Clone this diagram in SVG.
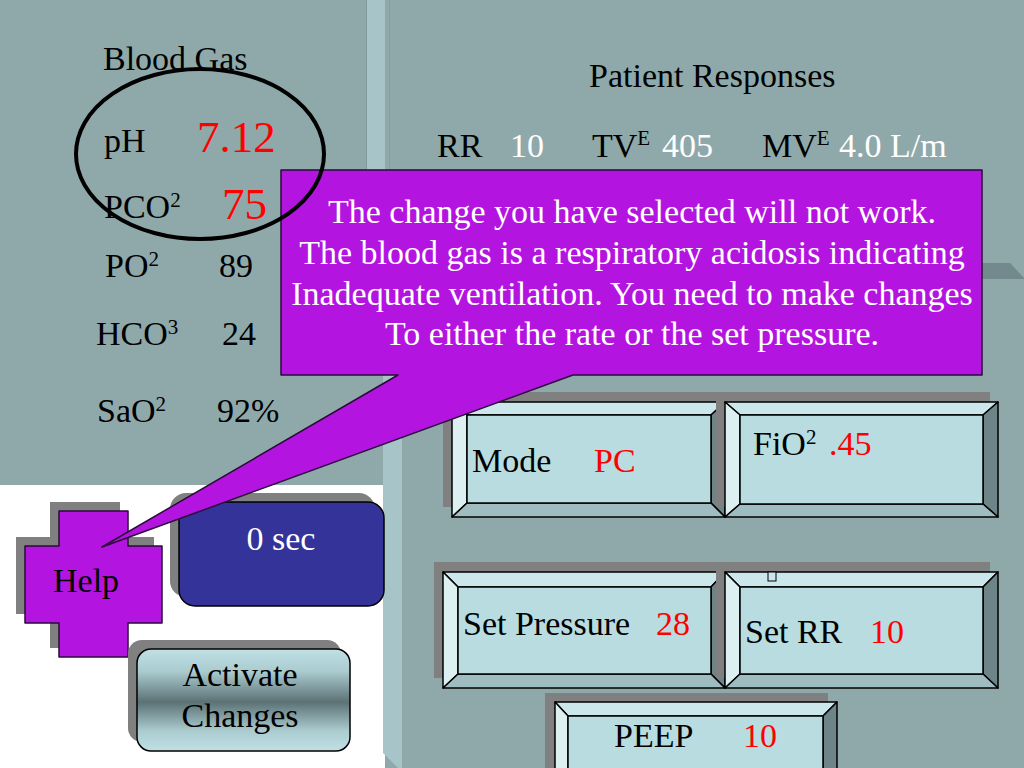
<svg xmlns="http://www.w3.org/2000/svg" width="1024" height="768" viewBox="0 0 1024 768">
<defs>
<style>
text{font-family:"Liberation Serif","Times New Roman",serif;}
.t{font-size:34px;fill:#000;}
.w{font-size:34px;fill:#fff;}
.r{font-size:34px;fill:#ff0000;}
.big{font-size:45px;fill:#ff0000;}
.sup{font-size:21px;}
.shadow{fill:#808080;}
.face{fill:#b8dce0;stroke:#000;stroke-width:1.5;}
.bt{fill:#cbe7eb;stroke:#000;stroke-width:1.5;stroke-linejoin:round;}
.bl{fill:#dcf0f2;stroke:#000;stroke-width:1.5;stroke-linejoin:round;}
.br{fill:#6d8488;stroke:#000;stroke-width:1.5;stroke-linejoin:round;}
.bb{fill:#9fbcc0;stroke:#000;stroke-width:1.5;stroke-linejoin:round;}
.purple{fill:#b414e0;stroke:#2a0a3a;stroke-width:1.5;stroke-linejoin:round;}
</style>
<linearGradient id="actGrad" x1="0" y1="0" x2="0" y2="1">
<stop offset="0" stop-color="#c0e0e4"/>
<stop offset="0.22" stop-color="#aacbcf"/>
<stop offset="0.52" stop-color="#5c7275"/>
<stop offset="0.8" stop-color="#aacbcf"/>
<stop offset="1" stop-color="#c0e0e4"/>
</linearGradient>
</defs>

<g id="background">
<rect x="0" y="0" width="1024" height="768" fill="#ffffff"/>
<rect x="385" y="0" width="639" height="768" fill="#8fa9ab"/>
<rect x="0" y="0" width="385" height="485" fill="#8fa9ab"/>
<rect x="366" y="0" width="19" height="300" fill="#a7c4c8"/>
<line x1="366.5" y1="0" x2="366.5" y2="300" stroke="#7f9a9c" stroke-width="1"/>
<line x1="389.5" y1="0" x2="389.5" y2="300" stroke="#86a0a2" stroke-width="1"/>
<polygon points="383,290 402,290 402,768 398,768 383,753" fill="#a7c4c8"/>
<polygon points="982,263 1010,263 1024,278 1024,279 982,279" fill="#72898d"/>
</g>

<g id="blood-gas">
<text class="t" x="103" y="70">Blood Gas</text>
<text class="t" x="104" y="152">pH</text>
<text class="big" x="197" y="152">7.12</text>
<text class="t" x="104" y="218">PCO<tspan class="sup" dy="-11">2</tspan></text>
<text class="big" x="222" y="219">75</text>
<text class="t" x="105" y="277">PO<tspan class="sup" dy="-11">2</tspan></text>
<text class="t" x="219" y="277">89</text>
<text class="t" x="96" y="345">HCO<tspan class="sup" dy="-11">3</tspan></text>
<text class="t" x="222" y="345">24</text>
<text class="t" x="97" y="422">SaO<tspan class="sup" dy="-11">2</tspan></text>
<text class="t" x="217" y="422">92%</text>
</g>

<g id="patient-responses">
<text class="t" x="589" y="87">Patient Responses</text>
<text class="t" x="437" y="157">RR</text>
<text class="w" x="510" y="157">10</text>
<text class="t" x="592" y="157">TV<tspan class="sup" dy="-12">E</tspan></text>
<text class="w" x="662" y="157">405</text>
<text class="t" x="762" y="157">MV<tspan class="sup" dy="-12">E</tspan></text>
<text class="w" x="839" y="157">4.0 L/m</text>
</g>

<g id="help-button">
<path class="shadow" d="M50,502 H120 V537 H154 V614 H120 V648 H50 V614 H16 V537 H50 Z"/>
<path class="purple" d="M59,511 H128 V546 H162 V623 H128 V657 H59 V623 H25 V546 H59 Z"/>
<text class="t" x="53" y="592">Help</text>
</g>

<g id="timer-button">
<rect class="shadow" x="170" y="493" width="205" height="104" rx="16"/>
<rect x="179" y="502" width="205" height="104" rx="16" fill="#333399" stroke="#000" stroke-width="1.5"/>
<text class="w" x="281" y="550" text-anchor="middle">0 sec</text>
</g>

<g id="activate-button">
<rect class="shadow" x="128" y="640" width="213" height="102" rx="14"/>
<rect x="137" y="649" width="213" height="102" rx="14" fill="url(#actGrad)" stroke="#000" stroke-width="1.5"/>
<text class="t" x="240" y="686" text-anchor="middle">Activate</text>
<text class="t" x="240" y="727" text-anchor="middle">Changes</text>
</g>

<g id="mode-box">
<rect class="shadow" x="443" y="392" width="273" height="115"/>
<polygon class="bt" points="452,402 725,402 711,415 467,415"/>
<polygon class="bl" points="452,402 467,415 467,503 452,517"/>
<polygon class="br" points="725,402 725,517 711,503 711,415"/>
<polygon class="bb" points="452,517 467,503 711,503 725,517"/>
<rect class="face" x="467" y="415" width="244" height="88"/>
<text class="t" x="472" y="472">Mode</text>
<text class="r" x="594" y="472">PC</text>
</g>

<g id="fio2-box">
<rect class="shadow" x="716" y="392" width="274" height="115"/>
<polygon class="bt" points="725,402 998,402 983,415 740,415"/>
<polygon class="bl" points="725,402 740,415 740,504 725,517"/>
<polygon class="br" points="998,402 998,517 983,504 983,415"/>
<polygon class="bb" points="725,517 740,504 983,504 998,517"/>
<rect class="face" x="740" y="415" width="243" height="89"/>
<text class="t" x="753" y="455">FiO<tspan class="sup" dy="-11">2</tspan></text>
<text class="r" x="829" y="455">.45</text>
</g>

<g id="set-pressure-box">
<rect class="shadow" x="434" y="562" width="282" height="116"/>
<polygon class="bt" points="443,572 725,572 711,587 458,587"/>
<polygon class="bl" points="443,572 458,587 458,674 443,688"/>
<polygon class="br" points="725,572 725,688 711,674 711,587"/>
<polygon class="bb" points="443,688 458,674 711,674 725,688"/>
<rect class="face" x="458" y="587" width="253" height="87"/>
<text class="t" x="463" y="635">Set Pressure</text>
<text class="r" x="656" y="635">28</text>
</g>

<g id="set-rr-box">
<rect class="shadow" x="716" y="562" width="274" height="116"/>
<polygon class="bt" points="725,572 998,572 983,587 740,587"/>
<polygon class="bl" points="725,572 740,587 740,674 725,688"/>
<polygon class="br" points="998,572 998,688 983,674 983,587"/>
<polygon class="bb" points="725,688 740,674 983,674 998,688"/>
<rect class="face" x="740" y="587" width="243" height="87"/>
<rect x="768" y="572" width="8" height="9" fill="#cbe7eb" stroke="#000" stroke-width="1"/>
<text class="t" x="745" y="643">Set RR</text>
<text class="r" x="870" y="643">10</text>
</g>

<g id="peep-box">
<rect class="shadow" x="545" y="693" width="283" height="90"/>
<polygon class="bt" points="555,702 837,702 823,716 568,716"/>
<polygon class="bl" points="555,702 568,716 568,768 555,782"/>
<polygon class="br" points="837,702 837,782 823,768 823,716"/>
<rect class="face" x="568" y="716" width="255" height="60"/>
<text class="t" x="614" y="747">PEEP</text>
<text class="r" x="743" y="747">10</text>
</g>

<g id="callout">
<polygon class="purple" points="281,170 982,170 982,375 573,375 102,547 398,375 281,375"/>
<text class="w" x="632" y="223" text-anchor="middle">The change you have selected will not work.</text>
<text class="w" x="632" y="264" text-anchor="middle">The blood gas is a respiratory acidosis indicating</text>
<text class="w" x="632" y="305" text-anchor="middle">Inadequate ventilation. You need to make changes</text>
<text class="w" x="632" y="345" text-anchor="middle">To either the rate or the set pressure.</text>
</g>

<g id="highlight-ellipse">
<ellipse cx="200" cy="154" rx="124" ry="85" fill="none" stroke="#000" stroke-width="4"/>
</g>

<g id="connectors"></g>
</svg>
